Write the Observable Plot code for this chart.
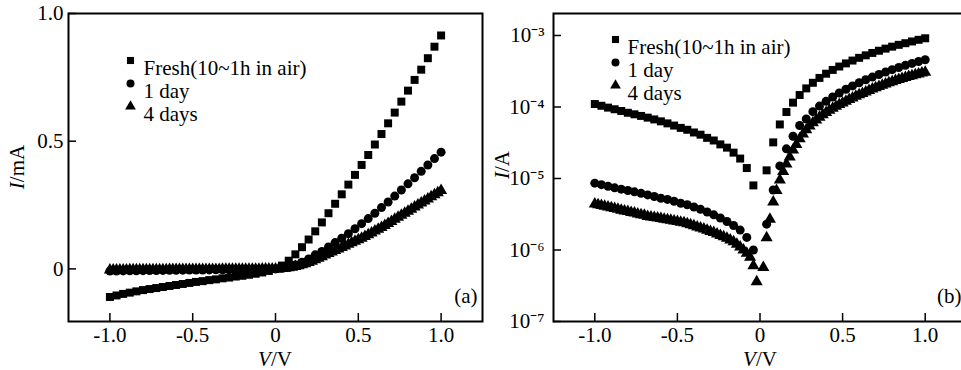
<!DOCTYPE html>
<html><head><meta charset="utf-8">
<script src="https://cdn.jsdelivr.net/npm/d3@7"></script>
<script src="https://cdn.jsdelivr.net/npm/@observablehq/plot@0.6"></script>
<style>
html,body{margin:0;padding:0;background:#fff;}
#wrap{position:relative;width:961px;height:370px;overflow:hidden;font-family:"Liberation Serif","Times New Roman",serif;color:#000;}
#wrap svg{position:absolute;top:0;}
.ylab{position:absolute;font-size:21px;line-height:22px;transform:translate(-50%,-50%) rotate(-90deg);white-space:nowrap;}
.xlab{position:absolute;font-size:21px;line-height:18px;transform:translate(-50%,-50%);white-space:nowrap;}
</style></head>
<body>
<div id="wrap">
  <div class="ylab" style="left:17px;top:167px"><i>I</i>/mA</div>
  <div class="ylab" style="left:502px;top:165px"><i>I</i>/A</div>
  <div class="xlab" style="left:275px;top:359px"><i>V</i>/V</div>
  <div class="xlab" style="left:760px;top:359px"><i>V</i>/V</div>
</div>
<script>
// ---- data ----
const seriesNames = ["Fresh(10~1h in air)", "1 day", "4 days"];
const seriesSymbols = ["square", "circle", "triangle"];

// voltage steps of 0.04 V (Fresh and 1 day)
const voltsCoarse = [-1.00,-0.96,-0.92,-0.88,-0.84,-0.80,-0.76,-0.72,-0.68,-0.64,-0.60,-0.56,-0.52,-0.48,-0.44,-0.40,-0.36,-0.32,-0.28,-0.24,-0.20,-0.16,-0.12,-0.08,-0.04,0.00,
  0.04,0.08,0.12,0.16,0.20,0.24,0.28,0.32,0.36,0.40,0.44,0.48,0.52,0.56,0.60,0.64,0.68,0.72,0.76,0.80,0.84,0.88,0.92,0.96,1.00];
// voltage steps of 0.02 V (4 days)
const voltsFine = [-1.00,-0.98,-0.96,-0.94,-0.92,-0.90,-0.88,-0.86,-0.84,-0.82,-0.80,-0.78,-0.76,-0.74,-0.72,-0.70,-0.68,-0.66,-0.64,-0.62,
  -0.60,-0.58,-0.56,-0.54,-0.52,-0.50,-0.48,-0.46,-0.44,-0.42,-0.40,-0.38,-0.36,-0.34,-0.32,-0.30,-0.28,-0.26,-0.24,-0.22,
  -0.20,-0.18,-0.16,-0.14,-0.12,-0.10,-0.08,-0.06,-0.04,-0.02,0.00,
  0.02,0.04,0.06,0.08,0.10,0.12,0.14,0.16,0.18,0.20,0.22,0.24,0.26,0.28,0.30,0.32,0.34,0.36,0.38,0.40,
  0.42,0.44,0.46,0.48,0.50,0.52,0.54,0.56,0.58,0.60,0.62,0.64,0.66,0.68,0.70,0.72,0.74,0.76,0.78,0.80,
  0.82,0.84,0.86,0.88,0.90,0.92,0.94,0.96,0.98,1.00];

// currents in A (signed)
const currentFresh = [-1.10e-4,-1.04e-4,-9.8e-5,-9.3e-5,-8.8e-5,-8.3e-5,-7.9e-5,-7.5e-5,-7.1e-5,-6.7e-5,-6.3e-5,-5.9e-5,-5.5e-5,-5.1e-5,-4.8e-5,-4.4e-5,-4.1e-5,-3.7e-5,-3.4e-5,-3.0e-5,-2.7e-5,-2.3e-5,-1.9e-5,-1.4e-5,-8.0e-6,0,
  1.3e-5,3.2e-5,5.7e-5,8.5e-5,1.15e-4,1.47e-4,1.82e-4,2.18e-4,2.55e-4,2.92e-4,3.3e-4,3.68e-4,4.07e-4,4.46e-4,4.87e-4,5.28e-4,5.7e-4,6.12e-4,6.55e-4,6.98e-4,7.4e-4,7.8e-4,8.25e-4,8.7e-4,9.14e-4];
const currentDay1 = [-8.6e-6,-8.2e-6,-7.8e-6,-7.4e-6,-7.1e-6,-6.8e-6,-6.5e-6,-6.2e-6,-5.9e-6,-5.6e-6,-5.3e-6,-5.1e-6,-4.8e-6,-4.5e-6,-4.3e-6,-4.0e-6,-3.7e-6,-3.4e-6,-3.1e-6,-2.8e-6,-2.5e-6,-2.2e-6,-1.9e-6,-1.5e-6,-1.0e-6,0,
  2.3e-6,6.9e-6,1.5e-5,2.6e-5,3.9e-5,5.5e-5,6.8e-5,8.6e-5,1.03e-4,1.2e-4,1.38e-4,1.57e-4,1.77e-4,1.97e-4,2.18e-4,2.4e-4,2.62e-4,2.85e-4,3.09e-4,3.33e-4,3.57e-4,3.82e-4,4.07e-4,4.32e-4,4.57e-4];
const currentDay4 = [-4.4e-6,-4.3e-6,-4.2e-6,-4.1e-6,-4.0e-6,-3.9e-6,-3.8e-6,-3.7e-6,-3.6e-6,-3.5e-6,
  -3.45e-6,-3.35e-6,-3.3e-6,-3.2e-6,-3.1e-6,-3.05e-6,-2.95e-6,-2.9e-6,-2.85e-6,-2.8e-6,
  -2.75e-6,-2.7e-6,-2.65e-6,-2.6e-6,-2.55e-6,-2.5e-6,-2.45e-6,-2.4e-6,-2.33e-6,-2.25e-6,
  -2.18e-6,-2.1e-6,-2.03e-6,-1.96e-6,-1.89e-6,-1.82e-6,-1.75e-6,-1.68e-6,-1.6e-6,-1.53e-6,
  -1.46e-6,-1.38e-6,-1.3e-6,-1.2e-6,-1.1e-6,-1.0e-6,-9.0e-7,-7.9e-7,-6.0e-7,-3.6e-7,0,
  5.7e-7,1.48e-6,2.7e-6,4.7e-6,6.8e-6,9.5e-6,1.25e-5,1.6e-5,2.0e-5,2.5e-5,
  3.0e-5,3.6e-5,4.2e-5,4.8e-5,5.4e-5,6.0e-5,6.6e-5,7.2e-5,7.8e-5,8.4e-5,
  9.0e-5,9.6e-5,1.02e-4,1.08e-4,1.14e-4,1.2e-4,1.27e-4,1.34e-4,1.41e-4,1.48e-4,
  1.55e-4,1.62e-4,1.70e-4,1.78e-4,1.86e-4,1.94e-4,2.02e-4,2.10e-4,2.18e-4,2.26e-4,
  2.34e-4,2.42e-4,2.50e-4,2.58e-4,2.66e-4,2.74e-4,2.82e-4,2.90e-4,2.98e-4,3.07e-4];

const xTicks = [-1, -0.5, 0, 0.5, 1];
const xTickLabels = ["-1.0", "-0.5", "0", "0.5", "1.0"];
const yTicksA = [0, 0.5, 1];
const yTickLabelsA = ["0", "0.5", "1.0"];
const yTicksB = [1e-7, 1e-6, 1e-5, 1e-4, 1e-3];
const yTickLabelsB = ["10\u207B\u2077", "10\u207B\u2076", "10\u207B\u2075", "10\u207B\u2074", "10\u207B\u00B3"];
const panelTags = ["(a)", "(b)"];

// ---- build rows ----
const seriesV = [voltsCoarse, voltsCoarse, voltsFine];
const seriesI = [currentFresh, currentDay1, currentDay4];
const rows = [];
[2, 1, 0].forEach(s => seriesV[s].forEach((v, i) => rows.push({V: v, I: seriesI[s][i], series: seriesNames[s]})));
const rowsA = rows.map(d => ({...d, mA: d.I * 1000}));
const rowsB = rows.filter(d => d.I !== 0).map(d => ({...d, absI: Math.abs(d.I)}));

const font = "'Liberation Serif', 'Times New Roman', serif";
const symbolScale = {domain: seriesNames, range: seriesSymbols};
const FS = 21;

function legendMarks(dxSym, dxText, dy0) {
  return seriesNames.flatMap((name, i) => [
    Plot.dot([name], {frameAnchor: "top-left", symbol: d => d, fill: "black", r: 4, dx: dxSym, dy: dy0 + 23 * i}),
    Plot.text([name], {frameAnchor: "top-left", text: d => d, textAnchor: "start", fontSize: FS, dx: dxText, dy: dy0 + 23 * i})
  ]);
}

const plotA = Plot.plot({
  width: 490, height: 370,
  marginLeft: 68, marginRight: 8, marginTop: 13, marginBottom: 49,
  style: {fontFamily: font, fontSize: FS + "px", background: "transparent", overflow: "visible"},
  x: {domain: [-1.25, 1.25]},
  y: {domain: [-0.206, 1.0]},
  symbol: symbolScale,
  marks: [
    Plot.dot(rowsA, {x: "V", y: "mA", symbol: "series", fill: "black", r: 4.5}),
    Plot.axisX({ticks: xTicks, tickSize: -8, tickPadding: 14, strokeWidth: 1.5, tickFormat: d => xTickLabels[xTicks.indexOf(d)], label: null, fontSize: FS}),
    Plot.axisY({ticks: yTicksA, tickSize: -8, tickPadding: 13, strokeWidth: 1.5, tickFormat: d => yTickLabelsA[yTicksA.indexOf(d)], label: null, fontSize: FS}),
    Plot.frame({strokeWidth: 2}),
    ...legendMarks(62, 75, 47),
    Plot.text([panelTags[0]], {frameAnchor: "bottom-right", text: d => d, textAnchor: "end", fontSize: FS, dx: -5, dy: -19})
  ]
});

const plotB = Plot.plot({
  width: 480, height: 370,
  marginLeft: 63, marginRight: 4, marginTop: 13, marginBottom: 49,
  style: {fontFamily: font, fontSize: FS + "px", background: "transparent", overflow: "visible"},
  x: {domain: [-1.25, 1.25]},
  y: {type: "log", domain: [1e-7, 2.03e-3]},
  symbol: symbolScale,
  marks: [
    Plot.dot(rowsB, {x: "V", y: "absI", symbol: "series", fill: "black", r: 4.5}),
    Plot.axisX({ticks: xTicks, tickSize: -8, tickPadding: 14, strokeWidth: 1.5, tickFormat: d => xTickLabels[xTicks.indexOf(d)], label: null, fontSize: FS}),
    Plot.axisY({ticks: yTicksB, tickSize: -8, tickPadding: 17, strokeWidth: 1.5, tickFormat: d => yTickLabelsB[yTicksB.indexOf(d)], label: null, fontSize: FS}),
    Plot.frame({strokeWidth: 2}),
    ...legendMarks(62, 74, 26),
    Plot.text([panelTags[1]], {frameAnchor: "bottom-right", text: d => d, textAnchor: "end", fontSize: FS, dx: -5, dy: -19})
  ]
});

const wrap = document.getElementById("wrap");
plotA.style.left = "0px";
plotB.style.left = "490px";
plotA.style.position = "absolute";
plotB.style.position = "absolute";
plotB.style.maxWidth = "none";
wrap.appendChild(plotA);
wrap.appendChild(plotB);
</script>
</body></html>
